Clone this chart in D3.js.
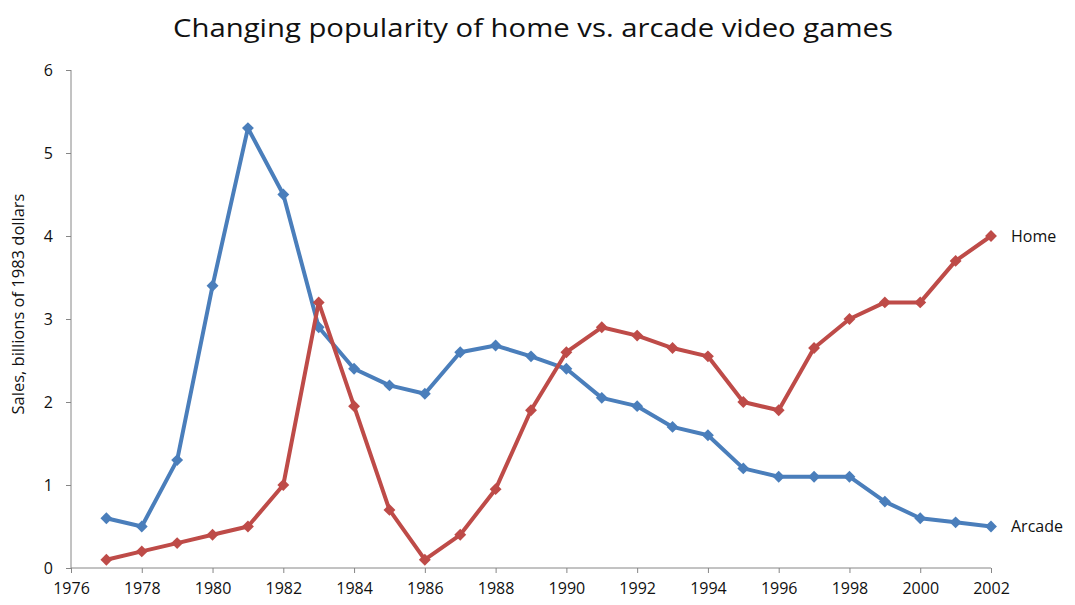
<!DOCTYPE html>
<html>
<head>
<meta charset="utf-8">
<script src="https://cdn.jsdelivr.net/npm/d3@7"></script>
<style>
  body { margin: 0; background: #fff; }
  text { font-family: "Open Sans", "Noto Sans", sans-serif; fill: #111; }
</style>
</head>
<body>
<svg id="main-svg" width="1075" height="605"></svg>
<script>
// years and sales, billions of 1983 dollars
let years = [1977, 1978, 1979, 1980, 1981, 1982, 1983, 1984, 1985, 1986, 1987, 1988, 1989,
             1990, 1991, 1992, 1993, 1994, 1995, 1996, 1997, 1998, 1999, 2000, 2001, 2002];
let arcade = [0.6, 0.5, 1.3, 3.4, 5.3, 4.5, 2.9, 2.4, 2.2, 2.1, 2.6, 2.68, 2.55,
              2.4, 2.05, 1.95, 1.7, 1.6, 1.2, 1.1, 1.1, 1.1, 0.8, 0.6, 0.55, 0.5];
let home = [0.1, 0.2, 0.3, 0.4, 0.5, 1.0, 3.2, 1.95, 0.7, 0.1, 0.4, 0.95, 1.9,
            2.6, 2.9, 2.8, 2.65, 2.55, 2.0, 1.9, 2.65, 3.0, 3.2, 3.2, 3.7, 4.0];
let xTicks = [1976, 1978, 1980, 1982, 1984, 1986, 1988, 1990, 1992, 1994, 1996, 1998, 2000, 2002];
let yTicks = [0, 1, 2, 3, 4, 5, 6];

let series = [
    { name: "Arcade", values: arcade, color: "#4a7ebb" },
    { name: "Home", values: home, color: "#be4b48" }
];

let svg = d3.select("#main-svg");
let margin = { left: 71, right: 84, top: 70, bottom: 37 };
let width = 1075, height = 605;

let x = d3.scaleLinear().domain([1976, 2002]).range([margin.left, width - margin.right]);
let y = d3.scaleLinear().domain([0, 6]).range([height - margin.bottom, margin.top]);

// title
svg.append("text")
    .attr("x", 533).attr("y", 37)
    .attr("text-anchor", "middle")
    .style("font-size", "25px")
    .attr("textLength", 720).attr("lengthAdjust", "spacingAndGlyphs")
    .text("Changing popularity of home vs. arcade video games");

// axes
let xAxis = d3.axisBottom(x).tickValues(xTicks).tickFormat(d3.format("d")).tickSize(5).tickPadding(10);
let yAxis = d3.axisLeft(y).tickValues(yTicks).tickFormat(d3.format("d")).tickSize(5).tickPadding(13);

let gx = svg.append("g")
    .attr("transform", "translate(0," + y(0) + ")")
    .call(xAxis);
let gy = svg.append("g")
    .attr("transform", "translate(" + x(1976) + ",0)")
    .call(yAxis);

[gx, gy].forEach(function (g) {
    g.attr("font-size", null).attr("font-family", null);
    g.select(".domain").attr("stroke", "#868686").attr("stroke-width", 1);
    g.selectAll(".tick line").attr("stroke", "#868686");
    g.selectAll(".tick text").style("font-size", "16px").attr("fill", "#111");
});
gy.select(".domain").attr("d", "M0," + y(6) + "V" + y(0));
gx.select(".domain").attr("d", "M" + x(1976) + ",0H" + x(2002));

// y axis title
svg.append("text")
    .attr("transform", "translate(24,304) rotate(-90)")
    .attr("text-anchor", "middle")
    .style("font-size", "16.5px")
    .text("Sales, billions of 1983 dollars");

// lines
let line = d3.line()
    .x(function (d, i) { return x(years[i]); })
    .y(function (d) { return y(d); });

let diamond = d3.symbol().type(d3.symbolDiamond2).size(90);

series.forEach(function (s) {
    let g = svg.append("g");
    g.append("path")
        .attr("d", line(s.values))
        .attr("fill", "none")
        .attr("stroke", s.color)
        .attr("stroke-width", 4)
        .attr("stroke-linejoin", "round");
    g.selectAll("path.marker")
        .data(s.values)
        .enter().append("path")
        .attr("class", "marker")
        .attr("transform", function (d, i) { return "translate(" + x(years[i]) + "," + y(d) + ")"; })
        .attr("d", diamond)
        .attr("fill", s.color);
    let last = s.values.length - 1;
    g.append("text")
        .attr("x", x(years[last]) + 20)
        .attr("y", y(s.values[last]))
        .attr("dy", "0.35em")
        .style("font-size", "16px")
        .text(s.name);
});
</script>
</body>
</html>
